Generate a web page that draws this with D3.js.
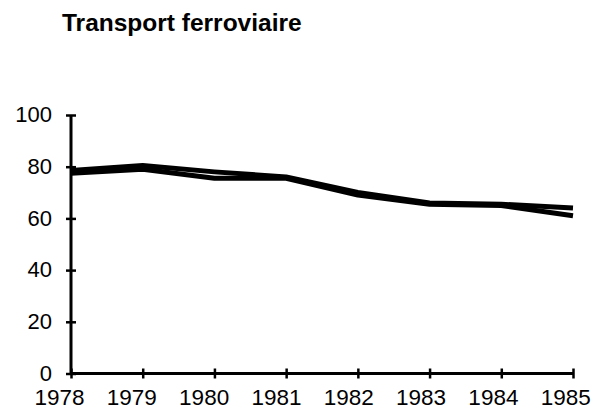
<!DOCTYPE html>
<html>
<head>
<meta charset="utf-8">
<script src="https://cdn.jsdelivr.net/npm/d3@7"></script>
<style>
  body { margin: 0; background: #fff; }
  svg { display: block; font-family: "Liberation Sans", Arial, sans-serif; }
</style>
</head>
<body>
<svg class="chart-svg"></svg>
<script>
// data
var years = [1978, 1979, 1980, 1981, 1982, 1983, 1984, 1985];
var seriesUpper = [78.5, 80.5, 78, 76, 70, 66, 65.5, 64];
var seriesLower = [77.5, 79, 75.5, 75.5, 69, 65.5, 65, 61];
var yTicks = [0, 20, 40, 60, 80, 100];
var title = "Transport ferroviaire";

function drawChart() {
  var width = 595, height = 412;
  var svg = d3.select(".chart-svg").attr("width", width).attr("height", height);

  var xScale = d3.scaleLinear().domain([1978, 1985]).range([71, 573]);
  var yScale = d3.scaleLinear().domain([0, 100]).range([373.5, 115]);

  // title
  svg.append("text")
    .attr("x", 62)
    .attr("y", 31)
    .style("font-size", "24.5px")
    .style("font-weight", "bold")
    .text(title);

  // y axis
  var yAxis = d3.axisLeft(yScale)
    .tickValues(yTicks)
    .tickSize(4)
    .tickPadding(15)
    .tickFormat(d3.format("d"));

  var gy = svg.append("g")
    .attr("transform", "translate(" + xScale(1978) + ",0)")
    .call(yAxis);

  // x axis
  var xAxis = d3.axisBottom(xScale)
    .tickValues(years)
    .tickSize(4)
    .tickPadding(12)
    .tickFormat(d3.format("d"));

  var gx = svg.append("g")
    .attr("transform", "translate(0," + yScale(0) + ")")
    .call(xAxis);

  [gx, gy].forEach(function(g) {
    g.select(".domain").attr("stroke", "#000").attr("stroke-width", 3);
    g.selectAll(".tick line").attr("stroke", "#000").attr("stroke-width", 2.5);
    g.selectAll("text").attr("fill", "#000").style("font-family", "Liberation Sans, Arial, sans-serif");
  });
  // ticks cross the axis line
  gy.selectAll(".tick line").attr("x1", 5).attr("x2", -5);
  gx.selectAll(".tick line").attr("y1", -5).attr("y2", 5);
  gy.select(".domain").attr("d", "M0," + yScale(100) + "V" + yScale(0));
  gx.select(".domain").attr("d", "M" + xScale(1978) + ",0H" + xScale(1985));

  gy.selectAll("text").style("font-size", "22px").attr("dy", "0.3em");
  gx.selectAll("text").style("font-size", "22.5px")
    .attr("dy", "0.7em")
    .attr("x", function(d, i) { return -12 + i * 0.6; });

  // lines
  var line = d3.line()
    .x(function(d, i) { return xScale(years[i]); })
    .y(function(d) { return yScale(d); });

  [seriesUpper, seriesLower].forEach(function(s) {
    svg.append("path")
      .datum(s)
      .attr("d", line)
      .attr("fill", "none")
      .attr("stroke", "#000")
      .attr("stroke-width", 5)
      .attr("stroke-linejoin", "round");
  });
}

drawChart();
</script>
</body>
</html>
